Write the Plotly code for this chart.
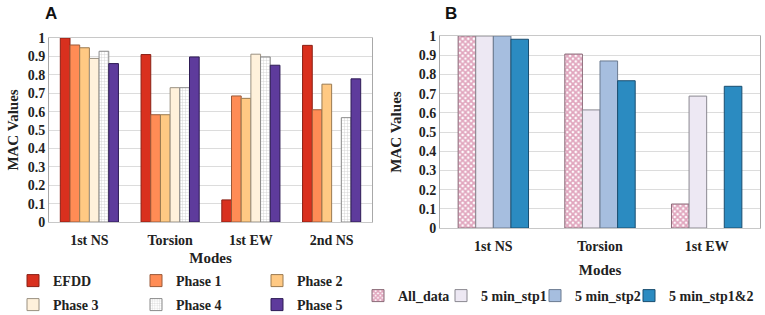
import plotly.graph_objects as go

# ---------------- data ----------------
modes_a = ["1st NS", "Torsion", "1st EW", "2nd NS"]
series_a = ["EFDD", "Phase 1", "Phase 2", "Phase 3", "Phase 4", "Phase 5"]
efdd = [1.0, 0.91, 0.12, 0.96]
phase1 = [0.962, 0.583, 0.685, 0.61]
phase2 = [0.947, 0.583, 0.672, 0.749]
phase3 = [0.889, 0.73, 0.912, None]
phase4 = [0.928, 0.73, 0.897, 0.567]
phase5 = [0.861, 0.897, 0.852, 0.778]

modes_b = ["1st NS", "Torsion", "1st EW"]
series_b = ["All_data", "5 min_stp1", "5 min_stp2", "5 min_stp1&2"]
all_data = [1.0, 0.906, 0.125]
stp1 = [1.0, 0.615, 0.687]
stp2 = [1.0, 0.87, None]
stp12 = [0.983, 0.767, 0.738]

y_ticks = [0, 0.1, 0.2, 0.3, 0.4, 0.5, 0.6, 0.7, 0.8, 0.9, 1]
y_tick_labels = ["0", "0.1", "0.2", "0.3", "0.4", "0.5", "0.6", "0.7", "0.8", "0.9", "1"]

# ---------------- style ----------------
W, H = 765, 315
SERIF = "Liberation Serif"
fill_a = ["#D9301E", "#FF8C55", "#FFC983", "#FFF1DB", "#FFFFFF", "#5E3B9C"]
line_a = ["#8A2015", "#9A5A3A", "#9A7A50", "#9A9080", "#8A8A8A", "#2E1C55"]
pat_a = [None, None, None, None,
         dict(shape="+", fgcolor="#9A9A9A", bgcolor="#FFFFFF", size=3, solidity=0.25), None]
fill_b = ["#FFFFFF", "#EDE8F3", "#A6BEDF", "#2B8BC1"]
line_b = ["#8A6A78", "#8A8890", "#6A7A90", "#1A4E70"]
pat_b = [dict(shape="x", fgcolor="#C24C7C", bgcolor="#FFFFFF", size=4, solidity=0.7),
         None, None, None]

def px_x(p):
    return p / W

def px_y(p):
    return 1 - p / H

fig = go.Figure()

vals_a = [efdd, phase1, phase2, phase3, phase4, phase5]
bw_a = 0.12
for i, (name, vals) in enumerate(zip(series_a, vals_a)):
    marker = dict(color=fill_a[i], line=dict(color=line_a[i], width=1))
    if pat_a[i]:
        marker["pattern"] = pat_a[i]
    fig.add_trace(go.Bar(
        x=modes_a, y=vals, name=name, marker=marker,
        width=bw_a, offset=-3 * bw_a + i * bw_a,
        xaxis="x", yaxis="y",
        legend="legend" if i == 0 else f"legend{i + 1}",
    ))

vals_b = [all_data, stp1, stp2, stp12]
bw_b = 0.165
for i, (name, vals) in enumerate(zip(series_b, vals_b)):
    marker = dict(color=fill_b[i], line=dict(color=line_b[i], width=1))
    if pat_b[i]:
        marker["pattern"] = pat_b[i]
    fig.add_trace(go.Bar(
        x=modes_b, y=vals, name=name, marker=marker,
        width=bw_b, offset=-2 * bw_b + i * bw_b,
        xaxis="x2", yaxis="y2",
        legend=f"legend{7 + i}",
    ))

tickfont = dict(family=SERIF, size=14, color="#222222")
titlefont = dict(family=SERIF, size=15, color="#222222")
catfont = dict(family=SERIF, size=14, color="#222222")

def yaxis(domain, anchor, standoff):
    return dict(domain=domain, anchor=anchor, range=[0, 1], tickvals=y_ticks,
                ticktext=[f"<b>{t}</b>" for t in y_tick_labels], tickfont=tickfont,
                showgrid=True, gridcolor="#DCDCDC", gridwidth=1, zeroline=False,
                showline=True, linecolor="#A8A8A8", linewidth=1, mirror=True,
                ticks="", automargin=False,
                title=dict(text="<b>MAC Values</b>",
                           font=dict(family=SERIF, size=15, color="#222222"),
                           standoff=standoff))

def xaxis(domain, anchor, standoff):
    return dict(domain=domain, anchor=anchor, tickfont=catfont, showgrid=False,
                zeroline=False, showline=True, linecolor="#C8C8C8", linewidth=1,
                mirror=True, ticks="", automargin=False, ticklabelstandoff=5,
                title=dict(text="<b>Modes</b>", font=titlefont, standoff=standoff))

ya = yaxis([px_y(222), px_y(38)], "x", 5)
yb = yaxis([px_y(228), px_y(36)], "x2", 13)
xa = xaxis([px_x(49), px_x(372)], "y", 5)
xb = xaxis([px_x(440), px_x(760)], "y2", 11)
xa["tickvals"] = modes_a
xa["ticktext"] = [f"<b>{m}</b>" for m in modes_a]
xb["tickvals"] = modes_b
xb["ticktext"] = [f"<b>{m}</b>" for m in modes_b]
xa["categoryarray"] = modes_a
xb["categoryarray"] = modes_b

layout = dict(
    width=W, height=H, margin=dict(l=0, r=0, t=0, b=0, autoexpand=False),
    paper_bgcolor="white", plot_bgcolor="white",
    barmode="overlay", showlegend=True,
    xaxis=xa, yaxis=ya, xaxis2=xb, yaxis2=yb,
    annotations=[
        dict(text="<b>A</b>", x=px_x(51), y=px_y(14), xref="paper", yref="paper",
             xanchor="center", yanchor="middle",
             showarrow=False, font=dict(family="Liberation Sans", size=17, color="#111111")),
        dict(text="<b>B</b>", x=px_x(451), y=px_y(14), xref="paper", yref="paper",
             xanchor="center", yanchor="middle",
             showarrow=False, font=dict(family="Liberation Sans", size=17, color="#111111")),
    ],
)

legfont = dict(family=SERIF, size=14, color="#222222")
# legend text start x positions and row centre y positions (pixels)
leg_pos = [(53, 281), (176, 281), (297, 281), (53, 305), (176, 305), (297, 305),
           (398, 296), (481, 296), (575, 296), (669, 296)]
for i, (tx, ty) in enumerate(leg_pos):
    key = "legend" if i == 0 else f"legend{i + 1}"
    layout[key] = dict(x=px_x(tx - 40), y=px_y(ty), xanchor="left", yanchor="middle",
                       orientation="h", font=legfont, bgcolor="rgba(0,0,0,0)",
                       borderwidth=0, itemwidth=30, tracegroupgap=0)

fig.update_layout(**layout)
for tr in fig.data:
    tr.name = f"<b>{tr.name}</b>"

fig.write_html("out.html", config={"displayModeBar": False},
               post_script="document.body.style.margin='0';document.body.style.overflow='hidden';")
